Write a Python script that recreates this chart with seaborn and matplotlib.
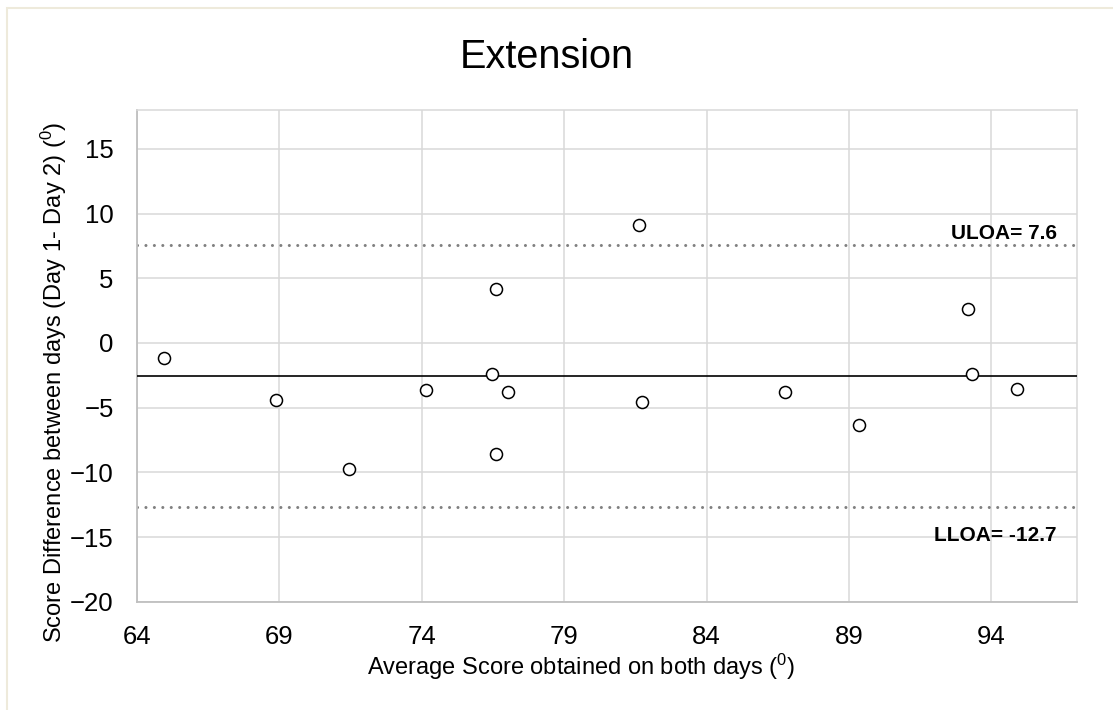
import matplotlib
matplotlib.use("Agg")
import matplotlib.pyplot as plt
from matplotlib.patches import Rectangle
import seaborn as sns
import pandas as pd

# Bland-Altman data: mean of the two days vs. difference (Day 1 - Day 2), degrees
avg_score = [64.96, 68.87, 71.45, 74.14, 76.45, 76.61, 77.03, 76.61,
             81.63, 81.74, 86.75, 89.34, 93.19, 93.34, 94.91]
score_diff = [-1.14, -4.41, -9.77, -3.66, -2.40, 4.15, -3.82, -8.59,
              9.12, -4.59, -3.79, -6.35, 2.60, -2.38, -3.54]

uloa = 7.6
lloa = -12.7
bias = (uloa + lloa) / 2

x_ticks = [64, 69, 74, 79, 84, 89, 94]
y_ticks = [-20, -15, -10, -5, 0, 5, 10, 15]

title = "Extension"
x_label = r"Average Score obtained on both days (${}^{0}$)"
y_label = r"Score Difference between days (Day 1- Day 2) (${}^{0}$)"

df = pd.DataFrame({"avg": avg_score, "diff": score_diff})

sns.set_theme(style="whitegrid")
plt.rcParams["font.family"] = ["Liberation Sans", "DejaVu Sans"]
plt.rcParams["mathtext.fontset"] = "custom"
plt.rcParams["mathtext.rm"] = "Liberation Sans"
plt.rcParams["mathtext.it"] = "Liberation Sans:italic"
plt.rcParams["mathtext.bf"] = "Liberation Sans:bold"

W, H = 1113, 710
fig = plt.figure(figsize=(W / 100, H / 100), dpi=100)
fig.patch.set_facecolor("white")

# plot area
left, right, top, bottom = 137, 1076.7, 110, 601.7
ax = fig.add_axes([left / W, 1 - bottom / H, (right - left) / W, (bottom - top) / H])

grid_c = "#d9d9d9"
axis_c = "#bfbfbf"

ax.set_xlim(64, 97)
ax.set_ylim(-20, 18)
ax.set_xticks(x_ticks)
ax.set_yticks(y_ticks)
ax.grid(True, color=grid_c, linewidth=1.1)
ax.set_axisbelow(True)

for side in ["left", "bottom"]:
    ax.spines[side].set_color(axis_c)
    ax.spines[side].set_linewidth(1.3)
for side in ["top", "right"]:
    ax.spines[side].set_color(grid_c)
    ax.spines[side].set_linewidth(1.1)
    ax.spines[side].set_visible(True)

ax.tick_params(axis="both", direction="out", length=5.8, width=1.1,
               color=axis_c, pad=11, labelsize=18.5, labelcolor="black")

# limits of agreement and bias
ax.axhline(uloa, color="#808080", linewidth=2.2, linestyle=(0, (0.01, 2.75)),
           dash_capstyle="round", zorder=2)
ax.axhline(lloa, color="#808080", linewidth=2.2, linestyle=(0, (0.01, 2.75)),
           dash_capstyle="round", zorder=2)
ax.axhline(bias, color="black", linewidth=1.2, zorder=3)

sns.scatterplot(data=df, x="avg", y="diff", ax=ax, marker="o", s=75,
                facecolor="white", edgecolor="black", linewidth=1.1, zorder=5,
                legend=False)

ax.set_xlabel("")
ax.set_ylabel("")

label_x = 96.3
ax.annotate(f"ULOA= {uloa}", xy=(label_x, uloa), xytext=(0, 4.3),
            textcoords="offset points", ha="right", va="baseline",
            fontsize=15, fontweight="bold", color="black")
ax.annotate(f"LLOA= {lloa}", xy=(label_x, lloa), xytext=(0, -24),
            textcoords="offset points", ha="right", va="baseline",
            fontsize=15, fontweight="bold", color="black")

fig.text(547 / W, 1 - 68 / H, title, ha="center", va="baseline",
         fontsize=28.5, color="black")
fig.text(581 / W, 1 - 675 / H, x_label, ha="center", va="baseline",
         fontsize=17, color="black")
fig.text(54 / W, 1 - 382 / H, y_label, ha="center", va="center",
         rotation=90, fontsize=17, color="black")

# outer chart frame
fig.patches.append(Rectangle((7 / W, -0.05), 1.2, (1 - 8 / H) + 0.05,
                             transform=fig.transFigure, fill=False,
                             edgecolor="#eeeadb", linewidth=1.5))

fig.savefig("out.png", dpi=100)
